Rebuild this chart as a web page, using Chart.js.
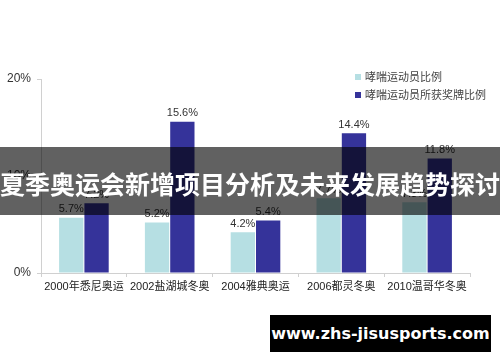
<!DOCTYPE html>
<html>
<head>
<meta charset="utf-8">
<script src="https://cdn.jsdelivr.net/npm/chart.js@4"></script>
<style>
  body { margin: 0; background: #fff; }
  #wrap { position: relative; width: 500px; height: 362px; overflow: hidden; }
  #banner {
    position: absolute; left: 0; top: 147px; width: 500px; height: 68px;
    background: rgba(0, 0, 0, 0.62); color: #fff;
    font: bold 25px "Noto Sans CJK SC", sans-serif;
    line-height: 72px; text-align: center; white-space: nowrap;
  }
  #mark {
    position: absolute; left: 270px; top: 315px; width: 221px; height: 37px;
    background: #000; color: #fff;
    font: bold 16px "DejaVu Sans", sans-serif;
    line-height: 37px; text-align: center; white-space: nowrap;
  }
</style>
</head>
<body>
<div id="wrap">
  <canvas id="chart" width="500" height="362"></canvas>
  <div id="banner">夏季奥运会新增项目分析及未来发展趋势探讨</div>
  <div id="mark">www.zhs-jisusports.com</div>
</div>
<script>
// data
const games = ["2000年悉尼奥运", "2002盐湖城冬奥", "2004雅典奥运", "2006都灵冬奥", "2010温哥华冬奥"];
const athleteShare = [5.7, 5.2, 4.2, 7.7, 7.3];
const medalShare = [7.2, 15.6, 5.4, 14.4, 11.8];
const yTicks = [0, 10, 20];

const lightColor = "#b6dfe3";
const darkColor = "#35339a";

// value labels above bars
const valueLabels = {
    id: "valueLabels",
    afterDatasetsDraw(chart) {
        const ctx = chart.ctx;
        ctx.save();
        ctx.font = "11px Arial, 'Liberation Sans', sans-serif";
        ctx.fillStyle = "#333";
        ctx.textAlign = "center";
        ctx.textBaseline = "bottom";
        chart.data.datasets.forEach((ds, i) => {
            chart.getDatasetMeta(i).data.forEach((bar, j) => {
                ctx.fillText(ds.data[j].toFixed(1) + "%", bar.x, bar.y - 3);
            });
        });
        ctx.restore();
    }
};

// legend in the upper right of the plot
const cornerLegend = {
    id: "cornerLegend",
    afterDraw(chart) {
        const ctx = chart.ctx;
        ctx.save();
        ctx.font = "11px 'Noto Sans CJK SC', sans-serif";
        ctx.textBaseline = "middle";
        chart.data.datasets.forEach((ds, i) => {
            let y = 77 + i * 18;
            ctx.fillStyle = ds.backgroundColor;
            ctx.fillRect(355, y - 3, 6, 6);
            ctx.fillStyle = "#444";
            ctx.fillText(ds.label, 365, y);
        });
        ctx.restore();
    }
};

new Chart(document.getElementById("chart"), {
    type: "bar",
    data: {
        labels: games,
        datasets: [{
            label: "哮喘运动员比例",
            data: athleteShare,
            backgroundColor: lightColor
        }, {
            label: "哮喘运动员所获奖牌比例",
            data: medalShare,
            backgroundColor: darkColor
        }]
    },
    options: {
        responsive: false,
        animation: false,
        layout: { padding: { top: 79, right: 30, left: 0, bottom: 0 } },
        categoryPercentage: 0.59,
        barPercentage: 0.96,
        plugins: {
            legend: { display: false },
            tooltip: { enabled: false }
        },
        scales: {
            x: {
                afterFit: s => { s.height = 89; },
                border: { color: "#d0d0d0" },
                grid: { drawOnChartArea: false, color: "#d0d0d0", tickLength: 4, offset: true },
                ticks: {
                    color: "#222",
                    padding: 3,
                    maxRotation: 0,
                    autoSkip: false,
                    font: { size: 11, family: "Arial, 'Noto Sans CJK SC', sans-serif" }
                }
            },
            y: {
                min: 0,
                max: 20,
                afterFit: s => { s.width = 41; },
                afterBuildTicks: s => { s.ticks = yTicks.map(v => ({ value: v })); },
                border: { color: "#d0d0d0" },
                grid: { drawOnChartArea: false, color: "#d0d0d0", tickLength: 4 },
                ticks: {
                    color: "#333",
                    padding: 6,
                    font: { size: 12, family: "Arial, 'Liberation Sans', sans-serif" },
                    callback: v => v + "%"
                }
            }
        }
    },
    plugins: [valueLabels, cornerLegend]
});
</script>
</body>
</html>
